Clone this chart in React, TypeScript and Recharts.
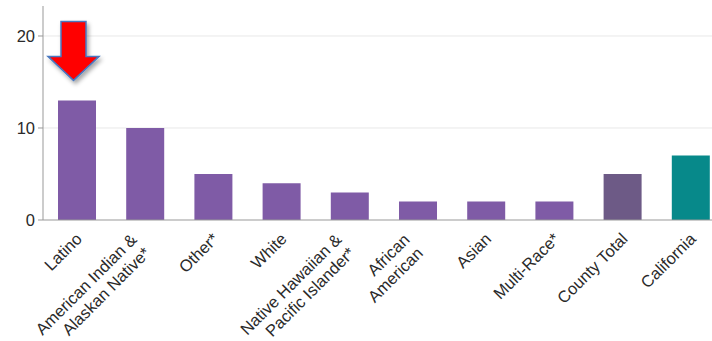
import React from "react";
import { BarChart, Bar, XAxis, YAxis, CartesianGrid, Cell, LabelList } from "recharts";

const categories = [
  "Latino",
  "American Indian &\nAlaskan Native*",
  "Other*",
  "White",
  "Native Hawaiian &\nPacific Islander*",
  "African\nAmerican",
  "Asian",
  "Multi-Race*",
  "County Total",
  "California",
];
const rates = [13, 10, 5, 4, 3, 2, 2, 2, 5, 7];
const yTicks = [0, 10, 20];
const gridValues = [10, 20];
const highlighted = "Latino";

const barColors = [
  "#7f5ba6", "#7f5ba6", "#7f5ba6", "#7f5ba6", "#7f5ba6",
  "#7f5ba6", "#7f5ba6", "#7f5ba6", "#6d5a86", "#07898a",
];

const data = categories.map((name, i) => ({ name, value: rates[i] }));

const FONT = "Liberation Sans, Arial, sans-serif";

function XTick(props: any) {
  const { x, y, payload } = props;
  const lines: string[] = String(payload.value).split("\n");
  const two = lines.length > 1;
  return (
    <g transform={`translate(${x + 6},${y + 12}) rotate(-45)`}>
      <text textAnchor="end" fontSize={16.5} fontFamily={FONT} fill="#2a2a2a">
        {lines.map((ln, i) => (
          <tspan key={i} x={two ? -10 : 0} y={two ? (i === 0 ? -9 : 10) : 0}>
            {ln}
          </tspan>
        ))}
      </text>
    </g>
  );
}

function Arrow(props: any) {
  const { x, y, width, index } = props;
  if (data[index]?.name !== highlighted) return null;
  const cx = x + width / 2 - 3.5;
  const tip = y - 20;
  const headTop = tip - 24;
  const shaftTop = tip - 59;
  const d = `M${cx - 12.5},${shaftTop} L${cx + 12.5},${shaftTop} L${cx + 12.5},${headTop} L${cx + 25.5},${headTop} L${cx},${tip} L${cx - 25.5},${headTop} L${cx - 12.5},${headTop} Z`;
  return (
    <path d={d} fill="#ff0000" stroke="#4a78c0" strokeWidth={1.5} filter="url(#arrowShadow)" />
  );
}

export default function App() {
  return (
    <div style={{ position: "absolute", left: 0, top: 0, width: 712, height: 341, overflow: "hidden", background: "#fff" }}>
      <BarChart
        width={725}
        height={341}
        data={data}
        margin={{ top: 6, right: 0, bottom: 0, left: 0 }}
        barCategoryGap="22%"
      >
        <defs>
          <filter id="arrowShadow" x="-30%" y="-30%" width="160%" height="160%">
            <feDropShadow dx={2} dy={3} stdDeviation={2} floodColor="#000" floodOpacity={0.35} />
          </filter>
        </defs>
        <CartesianGrid vertical={false} horizontalValues={gridValues} stroke="#e8e8e8" />
        <XAxis
          dataKey="name"
          interval={0}
          height={121}
          tickLine={false}
          axisLine={{ stroke: "#999" }}
          tick={<XTick />}
        />
        <YAxis
          width={43}
          domain={[0, 23.26]}
          ticks={yTicks}
          tickSize={5}
          tickMargin={3}
          tickLine={{ stroke: "#999" }}
          axisLine={{ stroke: "#999" }}
          tick={{ fontSize: 16.5, fontFamily: FONT, fill: "#2a2a2a" }}
        />
        <Bar dataKey="value" isAnimationActive={false}>
          {data.map((d, i) => (
            <Cell key={d.name} fill={barColors[i]} />
          ))}
          <LabelList dataKey="value" content={<Arrow />} />
        </Bar>
      </BarChart>
    </div>
  );
}
